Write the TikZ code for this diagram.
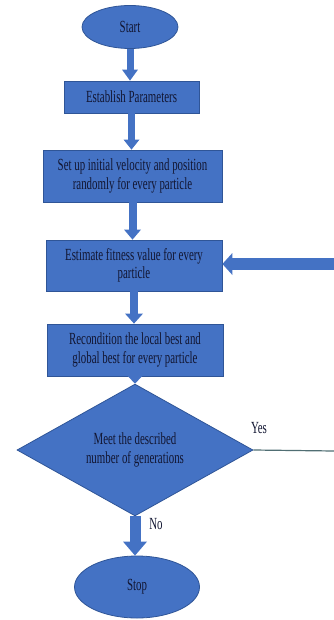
\documentclass[tikz,border=0pt]{standalone}
\usepackage{fontspec}
\setmainfont{Liberation Serif}[FakeStretch=0.64]
\usetikzlibrary{shapes.geometric,arrows.meta}
\definecolor{boxblue}{RGB}{68,114,196}
\definecolor{edgeblue}{RGB}{47,85,151}
\definecolor{txtnavy}{RGB}{18,22,50}
\definecolor{yesline}{RGB}{80,110,115}
\tikzset{
  base/.style={fill=boxblue, draw=edgeblue, line width=0.8pt, text=txtnavy,
    font=\fontsize{17}{18.5}\selectfont, align=center, inner sep=0pt},
  procbox/.style={base, rectangle},
  termbox/.style={base, ellipse},
  decbox/.style={base, diamond},
  blockarrow/.style n args={3}{draw=boxblue, line width=#1,
    -{Triangle[width=#2, length=#3, line width=0pt]}},
  plainlabel/.style={text=txtnavy, font=\fontsize{17}{18.5}\selectfont, inner sep=0pt}
}
\begin{document}
\begin{tikzpicture}[x=1pt,y=-1pt]
\useasboundingbox (0,0) rectangle (334,620);
\node[termbox, minimum width=96pt, minimum height=43pt] (start) at (130,27) {Start};
\node[procbox, minimum width=135pt, minimum height=32pt] (estab) at (131.5,97) {Establish Parameters};
\node[procbox, minimum width=179pt, minimum height=52pt] (setup) at (132.5,176) {Set up initial velocity and position\\randomly for every particle};
\node[procbox, minimum width=176pt, minimum height=51pt] (est) at (134,265.5) {Estimate fitness value for every\\particle};
\node[procbox, minimum width=176pt, minimum height=52pt] (rec) at (135,350) {Recondition the local best and\\global best for every particle};
\node[decbox, minimum width=236pt, minimum height=99pt] (dia) at (135,450) {Meet the described\\number of generations};
\node[termbox, minimum width=125pt, minimum height=62pt] (stop) at (137,587) {Stop};
\node[plainlabel] (yes) at (259,428) {Yes};
\node[plainlabel] (no) at (156,524) {No};
\coordinate (fbin) at (334,264);
\coordinate (yesend) at (334,451);

\draw[blockarrow={7pt}{16pt}{11pt}] (start.south) -- (start.south |- estab.north);
\draw[blockarrow={7pt}{16pt}{10pt}] (estab.south) -- (estab.south |- setup.north);
\draw[blockarrow={8pt}{17pt}{10pt}] (setup.south) -- (setup.south |- est.north);
\draw[blockarrow={8pt}{18pt}{10pt}] (est.south) -- (est.south |- rec.north);
\draw[blockarrow={9pt}{19pt}{10pt}] (rec.south) -- (rec.south |- dia.north);
\draw[blockarrow={11pt}{24pt}{14pt}] (dia.south) -- (dia.south |- stop.north);
\draw[blockarrow={12pt}{22pt}{10pt}] (fbin) -- (fbin -| est.east);
\draw[yesline, line width=1.2pt] (dia.east) -- (yesend);
\end{tikzpicture}
\end{document}
